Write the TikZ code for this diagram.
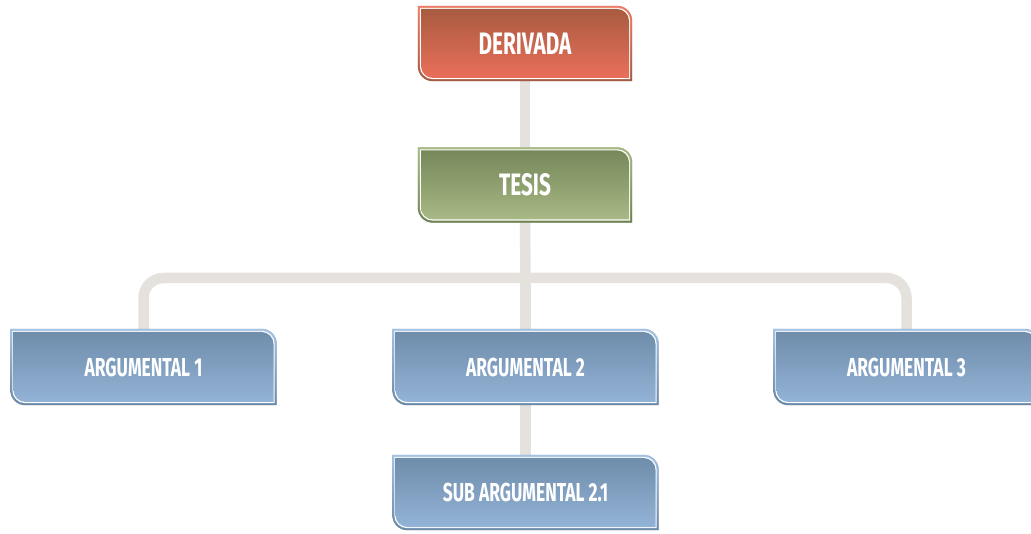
\documentclass[tikz,border=0pt]{standalone}
\usepackage{fontspec}
\usetikzlibrary{calc}
\newfontfamily\cardfont{Fira Sans}[FakeStretch=0.67]

\definecolor{conncol}{HTML}{E5E2DE}
% red card
\definecolor{redOutTop}{HTML}{EF7E68}
\definecolor{redOutBot}{HTML}{A35A43}
\definecolor{redInTop}{HTML}{A85B40}
\definecolor{redInBot}{HTML}{EA6F5A}
% green card
\definecolor{grnOutTop}{HTML}{A8BB82}
\definecolor{grnOutBot}{HTML}{6E8250}
\definecolor{grnInTop}{HTML}{76875A}
\definecolor{grnInBot}{HTML}{A8B985}
% blue card
\definecolor{bluOutTop}{HTML}{A3C3E6}
\definecolor{bluOutBot}{HTML}{6A89A8}
\definecolor{bluInTop}{HTML}{6F8DAB}
\definecolor{bluInBot}{HTML}{93B3D7}

\pgfdeclarelayer{connlayer}
\pgfdeclarelayer{cardlayer}
\pgfsetlayers{connlayer,cardlayer,main}

% card outline: square top-left / bottom-right, rounded top-right / bottom-left
\newcommand\cardoutline[3]{%
  let \p1=(#1.south west), \p2=(#1.north east) in
  (\x1+#2pt,\y2-#2pt) -- (\x2-#2pt-#3pt,\y2-#2pt)
  arc[start angle=90,end angle=0,radius=#3pt]
  -- (\x2-#2pt,\y1+#2pt) -- (\x1+#2pt+#3pt,\y1+#2pt)
  arc[start angle=270,end angle=180,radius=#3pt] -- cycle}

% soft shadow, outer rim, white line, gradient face
\newcommand\drawcard[5]{%
  \begin{pgfonlayer}{cardlayer}
    \foreach \k in {1,...,9}
      \fill[black,opacity=0.04,shift={(-0.8*\k pt,-0.95*\k pt)}] \cardoutline{#1}{0}{15};
    \shade[top color=#2,bottom color=#3] \cardoutline{#1}{0}{15};
    \fill[white] \cardoutline{#1}{2}{13};
    \shade[top color=#4,bottom color=#5] \cardoutline{#1}{3.2}{12};
  \end{pgfonlayer}}

\tikzset{
  cardtext/.style={inner sep=0pt, text=white,
    font=\cardfont\bfseries\fontsize{26}{26}\selectfont},
  bigcard/.style={cardtext, minimum width=214pt, minimum height=75pt,
    font=\cardfont\bfseries\fontsize{31}{31}\selectfont},
  wide/.style={cardtext, minimum width=266pt, minimum height=76pt},
  conn/.style={draw=conncol, line width=10.5pt},
}

\begin{document}
\begin{tikzpicture}[x=1pt,y=1pt]
  \useasboundingbox (0,0) rectangle (1031,533);
  \clip (0,0) rectangle (1031,533);

  \node[bigcard] (der) at (525,489.5) {DERIVADA};
  \node[bigcard] (tes) at (525,348) {TESIS};
  \node[wide] (a1) at (143.5,166) {ARGUMENTAL 1};
  \node[wide] (a2) at (525.5,166) {ARGUMENTAL 2};
  \node[wide] (a3) at (906.5,166) {ARGUMENTAL 3};
  \node[wide, minimum height=75pt] (sub) at (525.5,40.5) {SUB ARGUMENTAL 2.1};
  \coordinate (hub) at (525.5,255);

  \begin{pgfonlayer}{connlayer}
    \draw[conn] (der.south) -- (tes.north);
    \draw[conn] (tes.south) -- (hub);
    \draw[conn, rounded corners=20pt] (a1.north) |- (hub) -| (a3.north);
    \draw[conn] (hub) -- (a2.north);
    \draw[conn] (a2.south) -- (sub.north);
  \end{pgfonlayer}

  \drawcard{der}{redOutTop}{redOutBot}{redInTop}{redInBot}
  \drawcard{tes}{grnOutTop}{grnOutBot}{grnInTop}{grnInBot}
  \drawcard{a1}{bluOutTop}{bluOutBot}{bluInTop}{bluInBot}
  \drawcard{a2}{bluOutTop}{bluOutBot}{bluInTop}{bluInBot}
  \drawcard{a3}{bluOutTop}{bluOutBot}{bluInTop}{bluInBot}
  \drawcard{sub}{bluOutTop}{bluOutBot}{bluInTop}{bluInBot}
\end{tikzpicture}
\end{document}
